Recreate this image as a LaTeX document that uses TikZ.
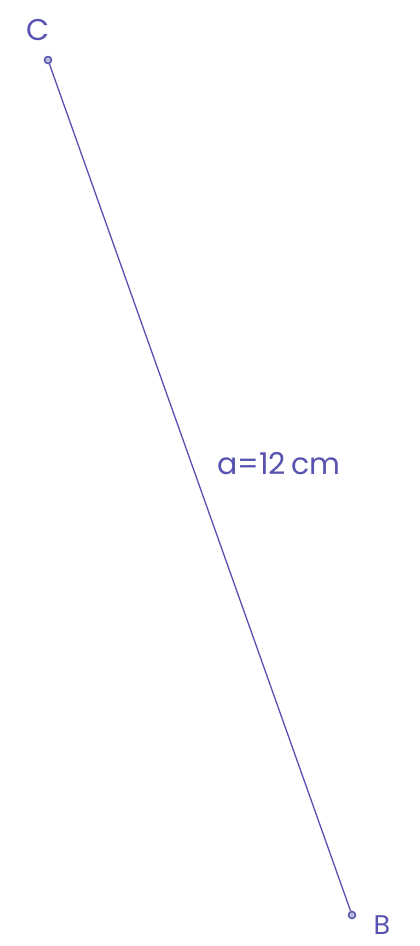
\documentclass[tikz,border=0pt]{standalone}
\usepackage{fontspec}
\setmainfont{Poppins}
\definecolor{pen}{HTML}{5852B0}
\begin{document}
\begin{tikzpicture}[x=1pt,y=-1pt,
  pt/.style={circle,draw=pen,fill=pen!40,line width=1.5pt,inner sep=0pt,minimum size=7pt},
  lbl/.style={text=pen,font=\fontsize{30}{30}\selectfont,inner sep=0pt}]
\useasboundingbox (0,0) rectangle (420,946);
\node[pt] (C) at (48,60) {};
\node[pt] (B) at (352,915) {};
\draw[pen,line width=1.3pt] (C) -- (B);
\node[lbl] (lc) at (38,30) {C};
\node[lbl,font=\fontsize{27}{27}\selectfont] (lb) at (382,925) {B};
\node[lbl,anchor=west] (la) at (217,464) {a=12\,cm};
\end{tikzpicture}
\end{document}
